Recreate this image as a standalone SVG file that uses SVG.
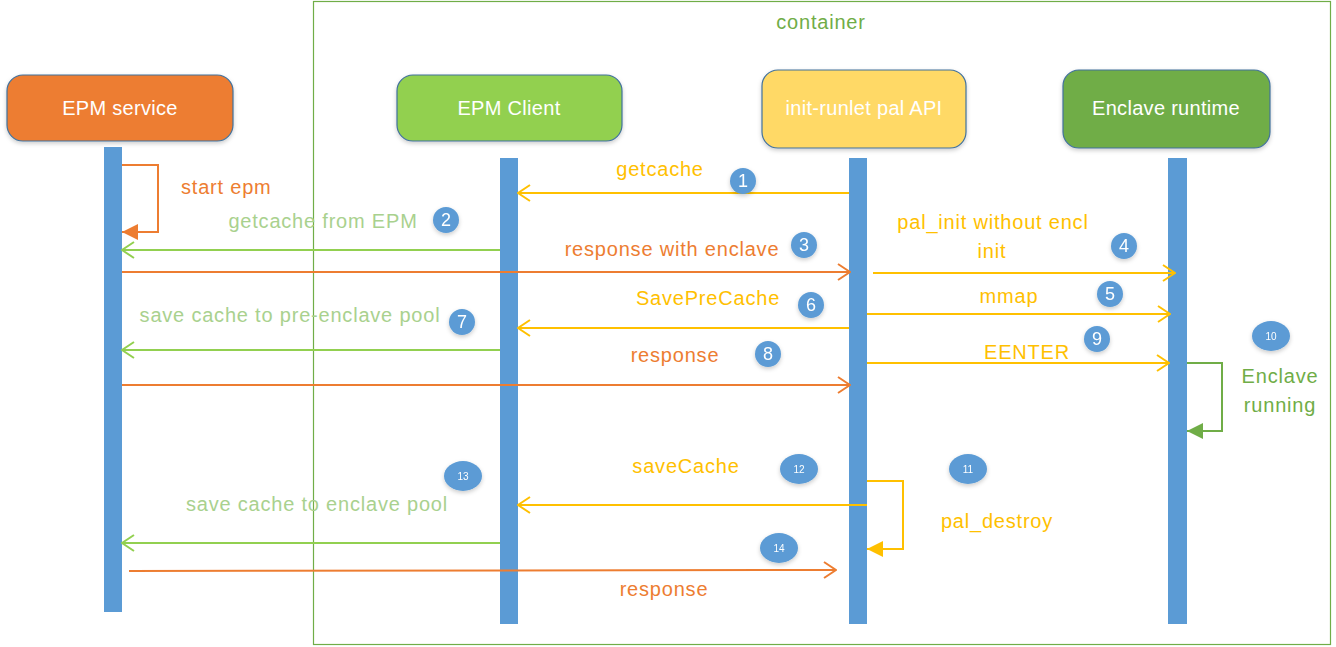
<svg xmlns="http://www.w3.org/2000/svg" width="1336" height="647" viewBox="0 0 1336 647">
<style>
text{font-family:"Liberation Sans","Noto Sans",Arial,sans-serif;font-size:20px;letter-spacing:0.8px}
.node{stroke:#41719C;stroke-width:1.2}
.nt{fill:#fff;font-size:20px;letter-spacing:0.3px;text-anchor:middle}
.life{fill:#5B9BD5}
.ln{fill:none;stroke-width:2}
.o{stroke:#ED7D31}.y{stroke:#FFC000}.g{stroke:#92D050}.dg{stroke:#70AD47}
.to{fill:#ED7D31}.ty{fill:#FFC000}.tg{fill:#A9D18E}.tdg{fill:#70AD47}
.mid{text-anchor:middle}
.b{fill:#5B9BD5}
.bt{fill:#fff;font-size:18px;letter-spacing:0;text-anchor:middle}
.bs{fill:#fff;font-size:10px;letter-spacing:0;text-anchor:middle}
</style>
<defs>
<filter id="sh" x="-20%" y="-20%" width="140%" height="150%"><feDropShadow dx="0" dy="2" stdDeviation="2" flood-color="#000" flood-opacity="0.2"/></filter>
<marker id="ao" viewBox="0 0 14 18" refX="13" refY="9" markerWidth="14" markerHeight="18" markerUnits="userSpaceOnUse" orient="auto"><path d="M1,1 L13,9 L1,17" fill="none" stroke="#ED7D31" stroke-width="2"/></marker>
<marker id="ay" viewBox="0 0 14 18" refX="13" refY="9" markerWidth="14" markerHeight="18" markerUnits="userSpaceOnUse" orient="auto"><path d="M1,1 L13,9 L1,17" fill="none" stroke="#FFC000" stroke-width="2"/></marker>
<marker id="ag" viewBox="0 0 14 18" refX="13" refY="9" markerWidth="14" markerHeight="18" markerUnits="userSpaceOnUse" orient="auto"><path d="M1,1 L13,9 L1,17" fill="none" stroke="#92D050" stroke-width="2"/></marker>
<marker id="fo" viewBox="0 0 16 16" refX="16" refY="8" markerWidth="16" markerHeight="16" markerUnits="userSpaceOnUse" orient="auto"><path d="M0,0 L16,8 L0,16 z" fill="#ED7D31"/></marker>
<marker id="fy" viewBox="0 0 16 16" refX="16" refY="8" markerWidth="16" markerHeight="16" markerUnits="userSpaceOnUse" orient="auto"><path d="M0,0 L16,8 L0,16 z" fill="#FFC000"/></marker>
<marker id="fg" viewBox="0 0 16 16" refX="16" refY="8" markerWidth="16" markerHeight="16" markerUnits="userSpaceOnUse" orient="auto"><path d="M0,0 L16,8 L0,16 z" fill="#70AD47"/></marker>
</defs>
<rect width="1336" height="647" fill="#fff"/>
<g id="container">
<rect x="313.5" y="1.5" width="1017" height="643" fill="none" stroke="#70AD47" stroke-width="1.2"/>
<text x="821" y="29" class="tdg mid">container</text>
</g>
<g id="epm-service">
<rect x="7" y="75" width="226" height="66" rx="16" fill="#ED7D31" class="node" filter="url(#sh)"/>
<text x="120" y="115" class="nt">EPM service</text>
<rect x="104" y="147" width="18" height="465" class="life"/>
</g>
<g id="epm-client">
<rect x="397" y="75" width="225" height="66" rx="16" fill="#92D050" class="node" filter="url(#sh)"/>
<text x="509" y="115" class="nt">EPM Client</text>
<rect x="500" y="158" width="18" height="466" class="life"/>
</g>
<g id="pal-api">
<rect x="762" y="70" width="204" height="78" rx="16" fill="#FFD966" class="node" filter="url(#sh)"/>
<text x="864" y="115" class="nt">init-runlet pal API</text>
<rect x="849" y="158" width="18" height="466" class="life"/>
</g>
<g id="enclave-runtime">
<rect x="1063" y="70" width="207" height="78" rx="16" fill="#70AD47" class="node" filter="url(#sh)"/>
<text x="1166" y="115" class="nt">Enclave runtime</text>
<rect x="1168" y="158" width="19" height="466" class="life"/>
</g>
<g id="connectors">
<path d="M122,165 H158 V232 H122" class="ln o" marker-end="url(#fo)"/>
<line x1="849" y1="193" x2="518" y2="193" class="ln y" marker-end="url(#ay)"/>
<line x1="500" y1="250" x2="122" y2="250" class="ln g" marker-end="url(#ag)"/>
<line x1="122" y1="272" x2="850" y2="272" class="ln o" marker-end="url(#ao)"/>
<line x1="873" y1="273" x2="1175" y2="273" class="ln y" marker-end="url(#ay)"/>
<line x1="867" y1="314" x2="1170" y2="314" class="ln y" marker-end="url(#ay)"/>
<line x1="849" y1="328" x2="518" y2="328" class="ln y" marker-end="url(#ay)"/>
<line x1="500" y1="350" x2="122" y2="350" class="ln g" marker-end="url(#ag)"/>
<line x1="867" y1="363" x2="1169" y2="363" class="ln y" marker-end="url(#ay)"/>
<line x1="122" y1="385" x2="850" y2="385" class="ln o" marker-end="url(#ao)"/>
<path d="M1187,363 H1222 V431 H1187" class="ln dg" marker-end="url(#fg)"/>
<path d="M867,481 H903 V549 H867" class="ln y" marker-end="url(#fy)"/>
<line x1="867" y1="505" x2="518" y2="505" class="ln y" marker-end="url(#ay)"/>
<line x1="500" y1="543" x2="122" y2="543" class="ln g" marker-end="url(#ag)"/>
<line x1="129" y1="571" x2="836" y2="570" class="ln o" marker-end="url(#ao)"/>
</g>
<g id="labels">
<text x="181" y="194" class="to">start epm</text>
<text x="660" y="176" class="ty mid">getcache</text>
<text x="323" y="228" class="tg mid">getcache from EPM</text>
<text x="672" y="256" class="to mid">response with enclave</text>
<text x="993" y="229" class="ty mid">pal_init without encl</text>
<text x="992" y="258" class="ty mid">init</text>
<text x="1009" y="303" class="ty mid">mmap</text>
<text x="708" y="305" class="ty mid">SavePreCache</text>
<text x="290" y="322" class="tg mid">save cache to pre-enclave pool</text>
<text x="675" y="362" class="to mid">response</text>
<text x="1027" y="359" class="ty mid">EENTER</text>
<text x="1280" y="383" class="tdg mid">Enclave</text>
<text x="1280" y="412" class="tdg mid">running</text>
<text x="686" y="473" class="ty mid">saveCache</text>
<text x="997" y="528" class="ty mid">pal_destroy</text>
<text x="317" y="511" class="tg mid">save cache to enclave pool</text>
<text x="664" y="596" class="to mid">response</text>
</g>
<g id="badges" filter="url(#sh)">
<g id="b1"><circle cx="743" cy="181" r="13" class="b"/><text x="743" y="187" class="bt">1</text></g>
<g id="b2"><circle cx="446" cy="220" r="13" class="b"/><text x="446" y="226" class="bt">2</text></g>
<g id="b3"><circle cx="804" cy="245" r="13" class="b"/><text x="804" y="251" class="bt">3</text></g>
<g id="b4"><circle cx="1124" cy="246" r="13" class="b"/><text x="1124" y="252" class="bt">4</text></g>
<g id="b5"><circle cx="1110" cy="294" r="13" class="b"/><text x="1110" y="300" class="bt">5</text></g>
<g id="b6"><circle cx="811" cy="305" r="13" class="b"/><text x="811" y="311" class="bt">6</text></g>
<g id="b7"><circle cx="462" cy="322" r="13" class="b"/><text x="462" y="328" class="bt">7</text></g>
<g id="b8"><circle cx="768" cy="354" r="13" class="b"/><text x="768" y="360" class="bt">8</text></g>
<g id="b9"><circle cx="1097" cy="339" r="13" class="b"/><text x="1097" y="345" class="bt">9</text></g>
<g id="b10"><ellipse cx="1271" cy="336" rx="19" ry="15" class="b"/><text x="1271" y="340" class="bs">10</text></g>
<g id="b11"><ellipse cx="968" cy="469" rx="19" ry="15" class="b"/><text x="968" y="473" class="bs">11</text></g>
<g id="b12"><ellipse cx="799" cy="469" rx="19" ry="15" class="b"/><text x="799" y="473" class="bs">12</text></g>
<g id="b13"><ellipse cx="463" cy="476" rx="19" ry="15" class="b"/><text x="463" y="480" class="bs">13</text></g>
<g id="b14"><ellipse cx="779" cy="548" rx="19" ry="15" class="b"/><text x="779" y="552" class="bs">14</text></g>
</g>
</svg>
